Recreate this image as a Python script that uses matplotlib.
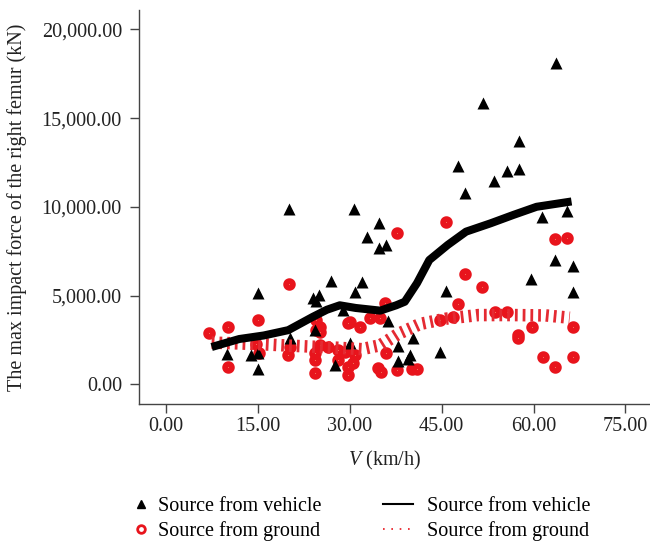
import numpy as np
import matplotlib.pyplot as plt
from matplotlib.lines import Line2D
from matplotlib.ticker import FuncFormatter

plt.rcParams["font.family"] = ["Liberation Serif", "DejaVu Serif"]
plt.rcParams["mathtext.fontset"] = "custom"
plt.rcParams["mathtext.rm"] = "Liberation Serif"
plt.rcParams["mathtext.it"] = "Liberation Serif:italic"

# Scatter data (V in km/h, force in kN)
vehicle_v = [10.0, 14.0, 15.1, 15.1, 15.1, 20.1, 20.3, 24.0, 24.3, 25.0,
             24.6, 26.9, 27.6, 29.0, 30.0, 30.8, 30.9, 32.0, 32.9, 34.8,
             34.8, 35.9, 36.2, 37.9, 37.9, 39.6, 39.8, 40.4, 44.7, 45.8,
             47.7, 48.8, 51.7, 53.6, 55.6, 57.6, 57.6, 59.6, 61.4, 63.5,
             63.6, 65.5, 66.5, 66.5]
vehicle_force = [1700, 1650, 1750, 850, 5150, 9900, 2600, 4850, 3050, 5050,
                 4700, 5800, 1100, 4200, 2300, 9900, 5200, 5750, 8300, 9100,
                 7700, 7850, 3550, 2150, 1300, 1450, 1650, 2600, 1800, 5250,
                 12300, 10800, 15850, 11450, 12000, 12150, 13700, 5950, 9400, 7000,
                 18100, 9750, 6650, 5200]

ground_v = [7.0, 10.2, 10.1, 15.1, 14.8, 15.3, 20.1, 20.3, 20.0, 24.6,
            24.3, 24.4, 24.6, 25.2, 25.2, 25.2, 26.5, 28.1, 29.2, 30.9,
            24.4, 28.1, 29.8, 29.8, 30.6, 30.0, 29.8, 31.7, 33.3, 34.9,
            35.8, 34.7, 35.2, 36.0, 37.7, 37.8, 40.1, 41.0, 44.7, 46.9,
            47.7, 45.8, 48.8, 51.6, 53.7, 55.6, 57.5, 57.5, 59.7, 61.6,
            63.5, 63.5, 65.5, 66.5, 66.5]
ground_force = [2870, 3200, 990, 3620, 2260, 1790, 5670, 2120, 1650, 3060,
                1750, 620, 3620, 3250, 2960, 2210, 2120, 1930, 1840, 1650,
                1370, 1370, 990, 540, 1180, 3530, 3440, 3250, 3760, 3760,
                4580, 900, 710, 1750, 8510, 810, 870, 870, 3620, 3810,
                4500, 9160, 6190, 5465, 4090, 4090, 2780, 2590, 3250, 1560,
                990, 8190, 8220, 3250, 1560]

# Fitted trend lines
trend_v_vehicle = [7.5, 12, 16, 20, 24, 26.3, 28.4, 31, 35, 37.6,
                   39, 41, 43, 46, 49, 53, 56.7, 60.5, 66.2]
trend_vehicle = [2100, 2550, 2750, 3050, 3800, 4200, 4450, 4300, 4150, 4450,
                 4650, 5700, 7000, 7850, 8600, 9070, 9540, 10000, 10300]

trend_v_ground = [7.5, 12, 16, 20, 24, 28, 32, 35, 38, 41.5,
                  45.8, 51, 56.7, 62, 65.9]
trend_ground = [2350, 2300, 2250, 2180, 2120, 2060, 1980, 2200, 2850, 3400,
                3700, 3900, 3900, 3880, 3750]

red = "#e8141c"

# --- PLOT ---
fig = plt.figure(figsize=(6.5, 5.41), dpi=100)
ax = fig.add_axes([0.2143, 0.2527, 1 - 0.2143, 0.9815 - 0.2527])

ax.plot(ground_v, ground_force, "o", ls="none", markersize=5, mfc="#f2705a",
        mec=red, mew=4, zorder=2)
ax.plot(vehicle_v, vehicle_force, "^", ls="none", markersize=8.5, color="black",
        mec="none", zorder=3)
ax.plot(trend_v_ground, trend_ground, color="#e42a32", lw=9, ls=(0, (0.22, 0.4)),
        dash_capstyle="butt", zorder=4)
ax.plot(trend_v_vehicle, trend_vehicle, color="black", lw=5.8,
        solid_capstyle="butt", solid_joinstyle="round", zorder=5)

ax.set_xlim(-4.3, 79)
ax.set_ylim(-1127, 21087)
ax.set_xticks([0, 15, 30, 45, 60, 75])
ax.set_yticks([0, 5000, 10000, 15000, 20000])
ax.xaxis.set_major_formatter(FuncFormatter(lambda v, p: f"{v:.2f}"))
ax.yaxis.set_major_formatter(FuncFormatter(lambda v, p: f"{v:,.2f}"))

for side in ["top", "right"]:
    ax.spines[side].set_visible(False)
for side in ["left", "bottom"]:
    ax.spines[side].set_color("#444444")
    ax.spines[side].set_linewidth(1.0)
ax.tick_params(axis="both", length=6.5, width=1.0, color="#444444",
               labelsize=14.5, labelcolor="#222222")
ax.tick_params(axis="y", pad=6)
ax.tick_params(axis="x", pad=3)

ax.set_xlabel(r"$\mathit{V}$ (km/h)", fontsize=14.5, color="#222222")
ax.set_ylabel("The max impact force of the right femur (kN)", fontsize=14.5,
              color="#222222")
ax.xaxis.set_label_coords((385 - 139.3) / (650 - 139.3), -0.113)
ax.yaxis.set_label_coords(-0.22, 0.5)

# Legends below the axes
h_tri = Line2D([], [], marker="^", ls="none", color="black", markersize=6)
h_circ = Line2D([], [], marker="o", ls="none", mfc="white", mec=red, mew=2,
                markersize=5.5)
fig.legend([h_tri, h_circ], ["Source from vehicle", "Source from ground"],
           loc="upper left", bbox_to_anchor=(128 / 650, 1 - 497 / 541),
           frameon=False, fontsize=14.5, handlelength=1.3,
           handletextpad=0.2, borderpad=0, borderaxespad=0,
           labelspacing=0.25)
h_line = Line2D([], [], color="black", lw=1.5)
h_dot = Line2D([], [], color=red, lw=1.2, ls=(0, (1, 4)))
fig.legend([h_line, h_dot], ["Source from vehicle", "Source from ground"],
           loc="upper left", bbox_to_anchor=(383 / 650, 1 - 497 / 541),
           frameon=False, fontsize=14.5, handlelength=1.5,
           handletextpad=0.7, borderpad=0, borderaxespad=0,
           labelspacing=0.25)

plt.savefig("out.png", dpi=100)
